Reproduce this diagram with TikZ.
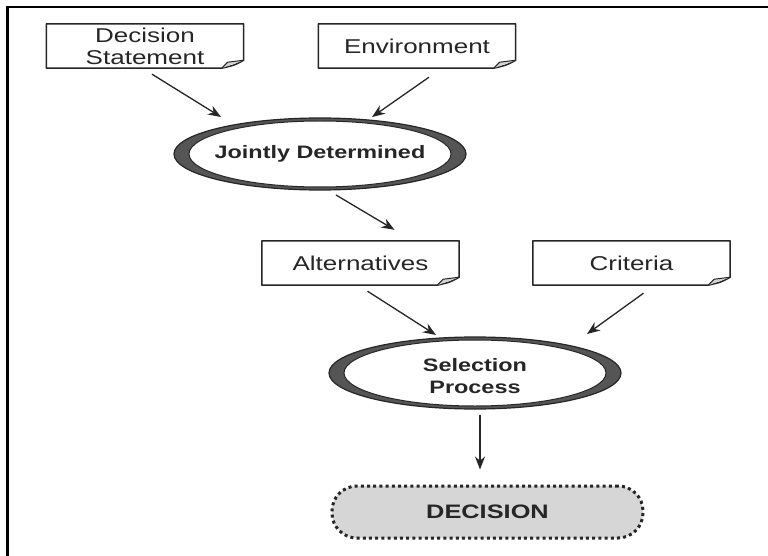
\documentclass[tikz,border=0pt]{standalone}
\usepackage{fontspec}
\setmainfont{Liberation Sans}
\newfontfamily\lab[FakeStretch=1.3]{Liberation Sans}
\usetikzlibrary{shapes.geometric,arrows.meta}
\definecolor{ink}{HTML}{262626}
\definecolor{crescent}{HTML}{555555}
\definecolor{flap}{HTML}{D2D2D2}
\definecolor{decfill}{HTML}{D6D6D6}
\begin{document}
\begin{tikzpicture}[x=1pt,y=-1pt,
  notebox/.style={rectangle,minimum width=197pt,minimum height=44pt,inner sep=0pt,
    align=center,font=\lab\fontsize{20}{22}\selectfont,text=ink},
  outline/.style={draw=ink,line width=1.5pt,line join=round},
  ringouter/.style={ellipse,draw=ink,fill=crescent,line width=1.2pt,inner sep=0pt,
    minimum width=292pt,minimum height=72pt},
  ringinner/.style={ellipse,draw=ink,fill=white,line width=1pt,inner sep=0pt,
    minimum width=262pt,minimum height=66pt},
  ringtext/.style={inner sep=0pt,align=center,
    font=\lab\bfseries\fontsize{18}{21.5}\selectfont,text=ink},
  decbox/.style={rectangle,rounded corners=25pt,fill=decfill,draw=ink,line width=3pt,
    dash pattern=on 3pt off 3.2pt,minimum width=311pt,minimum height=52pt,
    font=\lab\bfseries\fontsize{19.5}{22}\selectfont,text=ink},
  arr/.style={draw=ink,line width=1.3pt,-{Stealth[length=13pt,width=10pt]}}]

\useasboundingbox (0,0) rectangle (768,556);
\fill[white] (0,0) rectangle (768,556);

% frame (top and left rules)
\draw[black,line width=2.6pt,line join=miter] (7.5,556) -- (7.5,7) -- (768,7);

% note boxes
\node[notebox] (DS)   at (145,46)    {Decision\\Statement};
\node[notebox] (Env)  at (417,46)    {Environment};
\node[notebox] (Alt)  at (360.5,263) {Alternatives};
\node[notebox] (Crit) at (631.5,263) {Criteria};

\foreach \n in {DS,Env,Alt,Crit}{
  \draw[outline] (\n.north west) -- (\n.north east) -- ([shift={(0,-8)}]\n.south east)
    .. controls ([shift={(-9,-3)}]\n.south east) .. ([shift={(-22,0)}]\n.south east)
    -- (\n.south west) -- cycle;
  \draw[draw=ink,line width=1pt,fill=flap,line join=round]
    ([shift={(-22,0)}]\n.south east) -- ([shift={(-16,-6)}]\n.south east)
    -- ([shift={(0,-8)}]\n.south east);
}

% ringed ellipses
\node[ringouter] (JD)  at (320,154) {};
\node[ringinner] (JDi) at (JD.center) {};
\node[ringtext]  (JDt) at (JD.center) {Jointly Determined};
\node[ringouter] (SP)  at (475,373) {};
\node[ringinner] (SPi) at (SP.center) {};
\node[ringtext]  (SPt) at ([shift={(0,3)}]SP.center) {Selection\\Process};

% outcome
\node[decbox] (DEC) at (487.5,512) {DECISION};

% connectors
\draw[arr] ([shift={(7,6)}]DS.south)   -- ([shift={(-99,-37)}]JD.center);
\draw[arr] ([shift={(12,9)}]Env.south) -- ([shift={(52,-37)}]JD.center);
\draw[arr] ([shift={(16,41)}]JD.center) -- ([shift={(34,-11)}]Alt.north);
\draw[arr] ([shift={(7,6)}]Alt.south)  -- ([shift={(-39,-38)}]SP.center);
\draw[arr] ([shift={(12,8)}]Crit.south) -- ([shift={(112,-39)}]SP.center);
\draw[arr] ([shift={(5,5)}]SP.south)   -- ([shift={(-7.5,-15)}]DEC.north);
\end{tikzpicture}
\end{document}
